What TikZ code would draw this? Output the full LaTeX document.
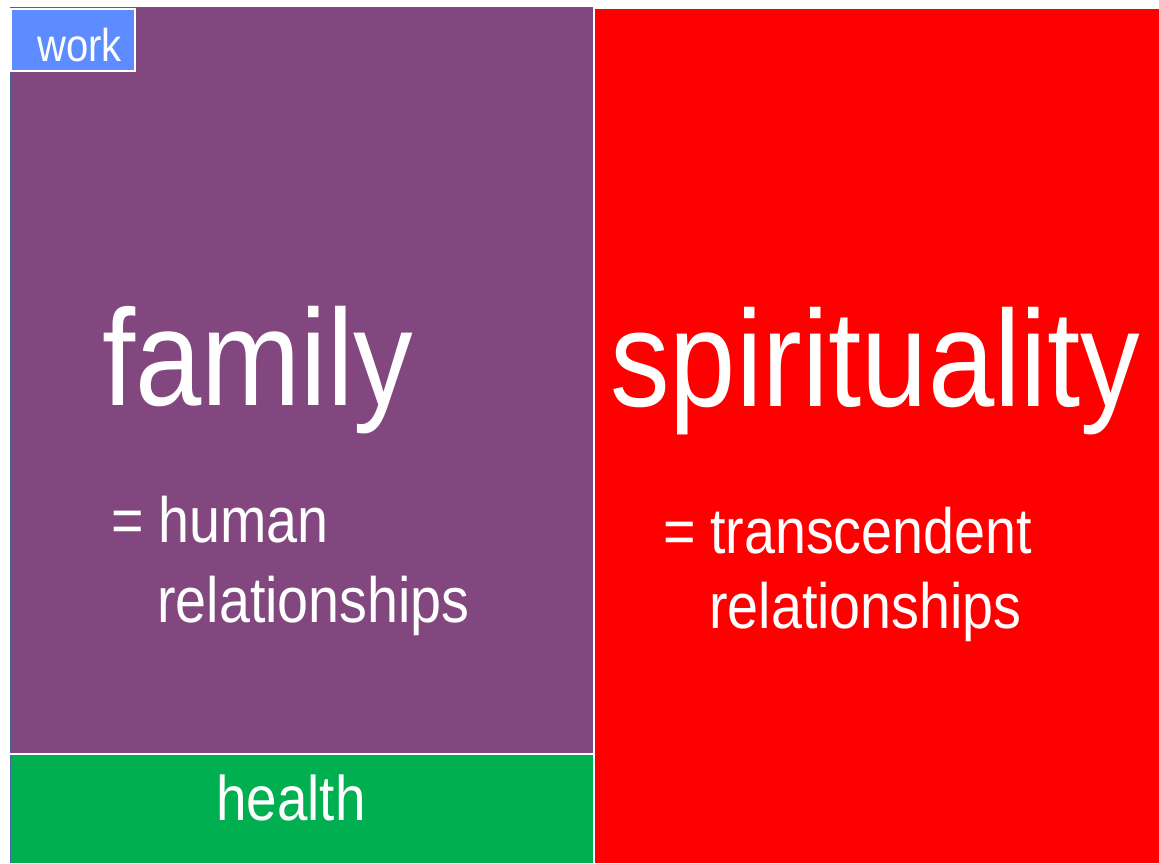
\documentclass[tikz,border=0pt]{standalone}
\usepackage{fontspec}
\newfontfamily\nf{Liberation Sans}[FakeStretch=0.87]
\definecolor{famcol}{RGB}{131,71,128}
\definecolor{healthcol}{RGB}{0,176,80}
\definecolor{spicol}{RGB}{255,0,0}
\definecolor{workcol}{RGB}{92,140,255}
\definecolor{edgecol}{RGB}{70,100,160}
\tikzset{
  lbl/.style={text=white, inner sep=0pt, anchor=base west, font=\nf},
  big/.style={lbl, font=\nf\fontsize{137}{137}\selectfont},
  sub/.style={lbl, font=\nf\fontsize{64}{64}\selectfont},
  sep/.style={draw=white, line width=2pt},
}
\begin{document}
\begin{tikzpicture}[x=1pt,y=-1pt]
\useasboundingbox (0,0) rectangle (1159,863);
\fill[white] (0,0) rectangle (1159,863);
% regions
\fill[famcol] (10,7) rectangle (593,753);
\fill[healthcol] (10,754) rectangle (593,863);
\fill[spicol] (595,9) rectangle (1159,863);
\draw[edgecol, line width=1.2pt] (10.5,863) -- (10.5,7.5) -- (593,7.5);
\draw[sep] (10,754) -- (593,754);
\draw[sep] (594,7) -- (594,863);
% work box
\filldraw[fill=workcol, draw=white, line width=1.5pt] (11,9) rectangle (135,71);
% texts
\node[lbl, font=\nf\fontsize{46}{46}\selectfont] (work) at (37,61) {work};
\node[big] (family) at (102,405) {family};
\node[big] (spirit) at (610,406) {spirituality};
\node[sub] (eqL) at (111,542) {=};
\node[sub] (human) at (158,542) {human};
\node[sub] (relL) at (157,622) {relationships};
\node[sub] (eqR) at (663,553) {=};
\node[sub] (trans) at (710,553) {transcendent};
\node[sub] (relR) at (709,628) {relationships};
\node[lbl, font=\nf\fontsize{63}{63}\selectfont] (health) at (216,820) {health};
\end{tikzpicture}
\end{document}
